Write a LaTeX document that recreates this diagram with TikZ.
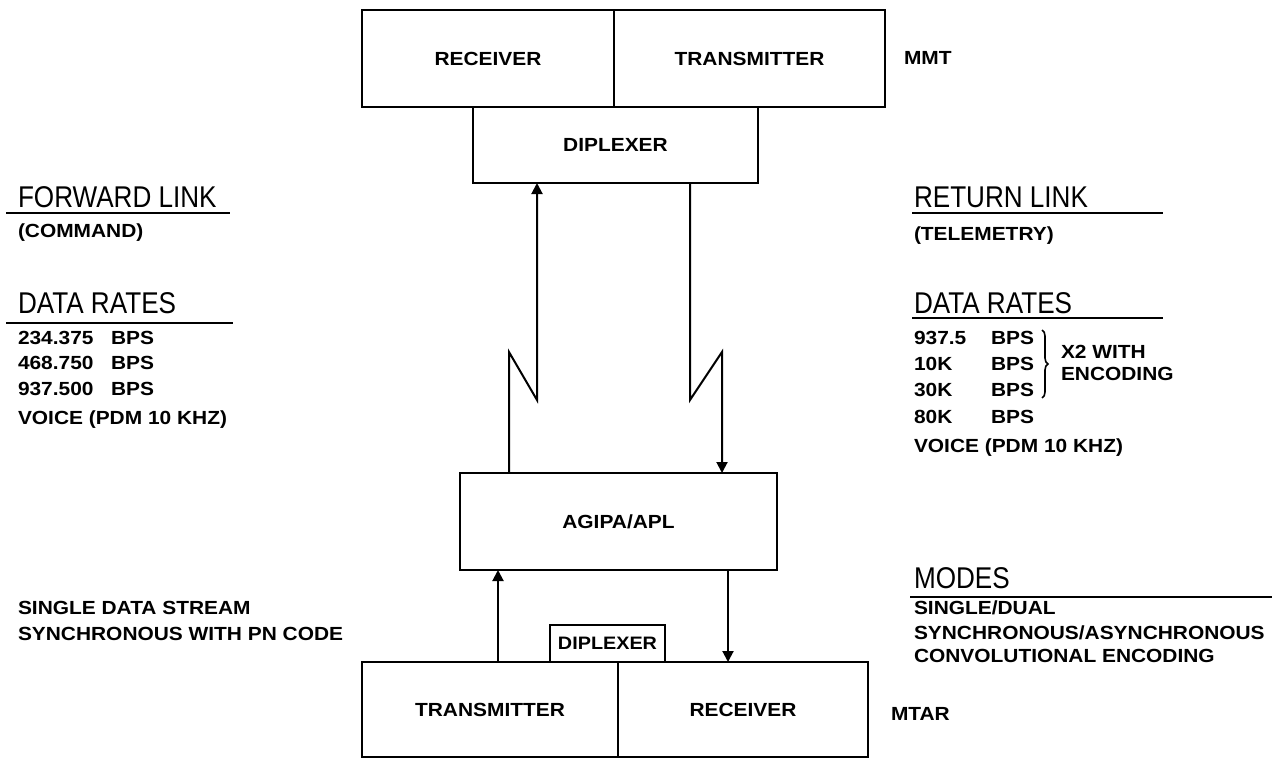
\documentclass[tikz,border=0pt]{standalone}
\usepackage{fontspec}
\setmainfont{Liberation Sans}
\newfontfamily\bodyfont[FakeStretch=1.1]{Liberation Sans}
\newfontfamily\headfont[FakeStretch=0.87]{Liberation Sans}
\usetikzlibrary{arrows.meta,positioning,decorations.pathreplacing}

\begin{document}
\begin{tikzpicture}[x=1pt, y=-1pt, >={Triangle[length=11pt,width=11pt]}, line width=2pt,
  blk/.style={draw, line width=2.4pt, outer sep=0pt, inner sep=0pt, font=\bodyfont\bfseries\fontsize{19}{21}\selectfont},
  txt/.style={anchor=base west, inner sep=0pt, font=\bodyfont\bfseries\fontsize{19}{21}\selectfont},
  hd/.style={anchor=base west, inner sep=0pt, font=\headfont\fontsize{30}{32}\selectfont},
  rule/.style={line width=1.8pt}]
\useasboundingbox (0,0) rectangle (1277,760);
% MMT side
\node[blk, minimum width=252pt, minimum height=97pt, anchor=north west] (mmtrx) at (362,10) {RECEIVER};
\node[blk, minimum width=271pt, minimum height=97pt, right=0pt of mmtrx] (mmttx) {TRANSMITTER};
\node[txt] (mmt) at (903,64) {MMT};
\node[blk, minimum width=285pt, minimum height=76pt, anchor=north west] (dip) at (473,107) {DIPLEXER};
% relay and MTAR side
\node[blk, minimum width=317pt, minimum height=97pt, anchor=north west] (agipa) at (460,473) {AGIPA/APL};
\node[blk, minimum width=256pt, minimum height=95pt, anchor=north west] (mtartx) at (362,662) {TRANSMITTER};
\node[blk, minimum width=250pt, minimum height=95pt, right=0pt of mtartx] (mtarrx) {RECEIVER};
\node[txt] (mtar) at (890,720) {MTAR};
\node[blk, line width=2pt, font=\bodyfont\bfseries\fontsize{18}{20}\selectfont, minimum width=115pt, minimum height=37pt, anchor=south west] (mdip) at (550,662) {DIPLEXER};
% links
\coordinate (fa) at (509,352); \coordinate (fb) at (537,400);
\coordinate (ra) at (690,400); \coordinate (rb) at (722,352);
\draw[->] (agipa.north -| fa) -- (fa) -- (fb) -- (dip.south -| fb);
\draw[->] (dip.south -| ra) -- (ra) -- (rb) -- (agipa.north -| rb);
\coordinate (up) at (498,0); \coordinate (dn) at (728,0);
\draw[->] (mtartx.north -| up) -- (agipa.south -| up);
\draw[->] (agipa.south -| dn) -- (mtarrx.north -| dn);
% forward link notes
\node[hd] (fwd) at (17,207) {FORWARD LINK};
\draw[rule] (6,213) -- (230,213);
\node[txt] (cmd) at (17,237) {(COMMAND)};
\node[hd] (fdr) at (17,313) {DATA RATES};
\draw[rule] (6,323) -- (233,323);
\foreach \v/\yy [count=\i] in {234.375/344,468.750/369,937.500/395} {
  \node[txt] (frate\i) at (17,\yy) {\v};
  \node[txt] (fbps\i) at (110,\yy) {BPS};
}
\node[txt] (fvoice) at (17,424) {VOICE (PDM 10 KHZ)};
\node[txt] (fmode1) at (17,614) {SINGLE DATA STREAM};
\node[txt] (fmode2) at (17,640) {SYNCHRONOUS WITH PN CODE};
% return link notes
\node[hd] (ret) at (913,207) {RETURN LINK};
\draw[rule] (912,213) -- (1163,213);
\node[txt] (tlm) at (913,240) {(TELEMETRY)};
\node[hd] (rdr) at (913,313) {DATA RATES};
\draw[rule] (912,318) -- (1163,318);
\foreach \v/\yy [count=\i] in {937.5/344,10K/370,30K/396,80K/423} {
  \node[txt] (rrate\i) at (913,\yy) {\v};
  \node[txt] (rbps\i) at (990,\yy) {BPS};
}
\draw[line width=1.6pt, decorate, decoration={brace, amplitude=6pt}] (1042,330) -- (1042,398);
\node[txt] (x2) at (1060,358) {X2 WITH};
\node[txt] (enc) at (1060,380) {ENCODING};
\node[txt] (rvoice) at (913,452) {VOICE (PDM 10 KHZ)};
\node[hd] (modes) at (913,588) {MODES};
\draw[rule] (910,597) -- (1272,597);
\node[txt] (rmode1) at (913,614) {SINGLE/DUAL};
\node[txt] (rmode2) at (913,639) {SYNCHRONOUS/ASYNCHRONOUS};
\node[txt] (rmode3) at (913,662) {CONVOLUTIONAL ENCODING};
\end{tikzpicture}
\end{document}
